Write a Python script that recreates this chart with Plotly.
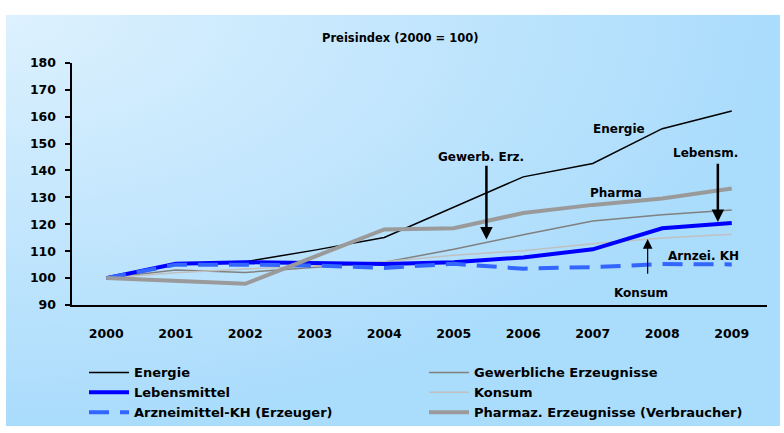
import base64
import plotly.graph_objects as go

years = ["2000", "2001", "2002", "2003", "2004", "2005", "2006", "2007", "2008", "2009"]
energie = [100, 105.2, 106.1, 110.4, 115.1, 126.5, 137.6, 142.6, 155.5, 162.1]
gewerbliche = [100, 103.0, 102.1, 103.9, 105.9, 110.7, 116.1, 121.2, 123.5, 125.3]
konsum = [100, 102.0, 103.4, 104.5, 106.1, 108.5, 110.2, 112.8, 114.9, 116.3]
lebensmittel = [100, 105.3, 105.9, 105.7, 105.2, 105.9, 107.7, 110.7, 118.5, 120.5]
arzneimittel_kh = [100, 105.0, 105.0, 104.7, 103.8, 105.3, 103.5, 104.1, 105.2, 105.1]
pharmaz = [100, 99.1, 97.9, 108.0, 118.1, 118.5, 124.2, 127.2, 129.6, 133.3]

FONT = "DejaVu Sans, Liberation Sans, Arial, sans-serif"

fig = go.Figure()

def add(name, y, color, width, legend, dash="solid"):
    fig.add_trace(go.Scatter(
        x=years, y=y, name=name, mode="lines",
        line=dict(color=color, width=width, dash=dash),
        legend=legend, xaxis="x", yaxis="y",
    ))

add("Energie", energie, "#000000", 1.5, "legend")
add("Gewerbliche Erzeugnisse", gewerbliche, "#808080", 1.5, "legend2")
add("Konsum", konsum, "#c0c0c0", 1.5, "legend2")
add("Lebensmittel", lebensmittel, "#0000ff", 4, "legend")
add("Arzneimittel-KH (Erzeuger)", arzneimittel_kh, "#3366ff", 4, "legend", dash="20px,11px")
add("Pharmaz. Erzeugnisse (Verbraucher)", pharmaz, "#9a9a9a", 4, "legend2")

# background gradient
svg = ('<svg xmlns="http://www.w3.org/2000/svg" width="100" height="100" preserveAspectRatio="none">'
       '<defs><radialGradient id="g" cx="0" cy="0" r="1" fx="0" fy="0">'
       '<stop offset="0" stop-color="#ddf1fe"/><stop offset="1" stop-color="#aadcfc"/>'
       '</radialGradient></defs><rect width="100" height="100" fill="url(#g)"/></svg>')
uri = "data:image/svg+xml;base64," + base64.b64encode(svg.encode()).decode()

W, H = 784, 433
fig.add_layout_image(dict(
    source=uri, xref="paper", yref="paper",
    x=6 / W, y=1 - 7 / H, sizex=774 / W, sizey=426 / H,
    xanchor="left", yanchor="top", sizing="stretch", layer="below",
))

bold = dict(family=FONT, size=12.5, color="#000000", weight="bold")
legend_font = dict(family=FONT, size=13, color="#000000", weight="bold")

def note(text, x, y, size=12):
    fig.add_annotation(x=x, y=y, xref="x", yref="y", text=text, showarrow=False,
                       font=dict(family=FONT, size=size, color="#000000", weight="bold"))

def arrow(x, y_tip, y_tail, width):
    fig.add_annotation(x=x, y=y_tip, ax=x, ay=y_tail, xref="x", yref="y",
                       axref="x", ayref="y", text="", showarrow=True,
                       arrowhead=2, arrowsize=1.0 if width > 1.5 else 1.6,
                       arrowwidth=width, arrowcolor="#000000", standoff=0)

note("Energie", 7.38, 155.5)
note("Gewerb. Erz.", 5.39, 145.0)
note("Lebensm.", 8.62, 146.3)
note("Pharma", 7.34, 131.6)
note("Arnzei. KH", 8.59, 108.1)
note("Konsum", 7.70, 94.6)
arrow(5.47, 114.3, 142.3, 2.5)
arrow(8.80, 120.8, 143.0, 2.5)
arrow(7.79, 114.5, 101.1, 1.2)

fig.add_annotation(x=400 / W, y=1 - 21.7 / H, xref="paper", yref="paper",
                   text="Preisindex (2000 = 100)", showarrow=False,
                   font=dict(family=FONT, size=11.5, color="#000000", weight="bold"))

legend_common = dict(orientation="v", bgcolor="rgba(0,0,0,0)", font=legend_font,
                     xanchor="left", yanchor="top", itemwidth=40,
                     traceorder="normal", tracegroupgap=0)

fig.update_layout(
    width=W, height=H,
    margin=dict(l=0, r=0, t=0, b=0),
    paper_bgcolor="#ffffff", plot_bgcolor="rgba(0,0,0,0)",
    font=dict(family=FONT, color="#000000"),
    showlegend=True,
    legend=dict(x=84 / W, y=1 - 362 / H, **legend_common),
    legend2=dict(x=424 / W, y=1 - 362 / H, **legend_common),
    xaxis=dict(
        domain=[71.5 / W, 766.5 / W], type="category", range=[-0.5, 9.5],
        showline=True, linecolor="#000000", linewidth=2, ticks="",
        showgrid=False, zeroline=False, tickfont=bold, ticklabelstandoff=16,
        fixedrange=True,
    ),
    yaxis=dict(
        domain=[(H - 307.7) / H, (H - 56.7) / H], range=[90, 180], dtick=10,
        showline=True, linecolor="#000000", linewidth=2, ticks="outside",
        ticklen=5, tickwidth=2, tickcolor="#000000", showgrid=False,
        zeroline=False, tickfont=bold, ticklabelstandoff=6, fixedrange=True,
    ),
)

fig.write_html("out.html")
